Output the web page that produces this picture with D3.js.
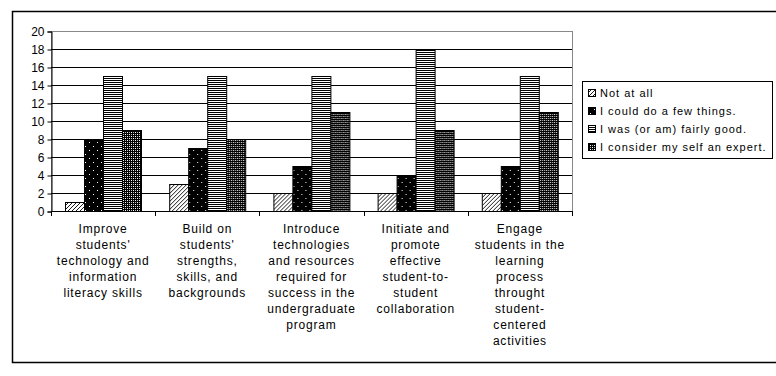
<!DOCTYPE html>
<html>
<head>
<meta charset="utf-8">
<script src="https://cdn.jsdelivr.net/npm/d3@7"></script>
<style>
  body { margin: 0; background: #fff; }
  svg { display: block; font-family: "Liberation Sans", Arial, sans-serif; }
</style>
</head>
<body>
<script>
// Data
var categories = [
    ["Improve", "students'", "technology and", "information", "literacy skills"],
    ["Build on", "students'", "strengths,", "skills, and", "backgrounds"],
    ["Introduce", "technologies", "and resources", "required for", "success in the", "undergraduate", "program"],
    ["Initiate and", "promote", "effective", "student-to-", "student", "collaboration"],
    ["Engage", "students in the", "learning", "process", "throught", "student-", "centered", "activities"]
];
var seriesNames = ["Not at all", "I could do a few things.", "I was (or am) fairly  good.", "I consider my self an expert."];
var notAtAll = [1, 3, 2, 2, 2];
var fewThings = [8, 7, 5, 4, 5];
var fairlyGood = [15, 15, 15, 18, 15];
var expert = [9, 8, 11, 9, 11];
var yTicks = [0, 2, 4, 6, 8, 10, 12, 14, 16, 18, 20];

var series = [notAtAll, fewThings, fairlyGood, expert];
var patternIds = ["p-diag", "p-dots", "p-stripes", "p-check"];

var W = 776, H = 376;
var plot = {left: 51, top: 31, right: 572, bottom: 211};

var svg = d3.select("body").append("svg")
    .attr("width", W)
    .attr("height", H);

// Patterns
var defs = svg.append("defs");

var pd = defs.append("pattern").attr("id", "p-diag")
    .attr("patternUnits", "userSpaceOnUse").attr("width", 4).attr("height", 4);
pd.append("rect").attr("width", 4).attr("height", 4).attr("fill", "#fff");
pd.append("path").attr("d", "M-1,1 l2,-2 M0,4 l4,-4 M3,5 l2,-2")
    .attr("stroke", "#000").attr("stroke-width", 0.9);

var pdot = defs.append("pattern").attr("id", "p-dots")
    .attr("patternUnits", "userSpaceOnUse").attr("width", 8).attr("height", 8);
pdot.append("rect").attr("width", 8).attr("height", 8).attr("fill", "#000");
pdot.append("rect").attr("x", 2).attr("y", 2).attr("width", 1).attr("height", 1).attr("fill", "#fff");
pdot.append("rect").attr("x", 6).attr("y", 6).attr("width", 1).attr("height", 1).attr("fill", "#fff");

var ps = defs.append("pattern").attr("id", "p-stripes")
    .attr("patternUnits", "userSpaceOnUse").attr("width", 4).attr("height", 2);
ps.append("rect").attr("width", 4).attr("height", 2).attr("fill", "#fff");
ps.append("rect").attr("width", 4).attr("height", 1).attr("fill", "#000");

var pc = defs.append("pattern").attr("id", "p-check")
    .attr("patternUnits", "userSpaceOnUse").attr("width", 4).attr("height", 4);
pc.append("rect").attr("width", 4).attr("height", 4).attr("fill", "#000");
pc.append("rect").attr("x", 0).attr("y", 0).attr("width", 1).attr("height", 1).attr("fill", "#fff");
pc.append("rect").attr("x", 2).attr("y", 2).attr("width", 1).attr("height", 1).attr("fill", "#fff");
pc.append("rect").attr("x", 2).attr("y", 0).attr("width", 1).attr("height", 1).attr("fill", "#bbb");
pc.append("rect").attr("x", 0).attr("y", 2).attr("width", 1).attr("height", 1).attr("fill", "#bbb");

// Outer frame
svg.append("rect")
    .attr("x", 12.5).attr("y", 11.5)
    .attr("width", 800).attr("height", 351)
    .attr("fill", "none").attr("stroke", "#000").attr("stroke-width", 1.5);

// Scales
var x0 = d3.scaleBand()
    .domain(d3.range(categories.length))
    .range([plot.left, plot.right]);

var x1 = d3.scaleBand()
    .domain(d3.range(series.length))
    .range([0, x0.bandwidth()])
    .paddingOuter(0.7)
    .paddingInner(0);

var y = d3.scaleLinear()
    .domain([0, 20])
    .range([plot.bottom, plot.top]);

// Plot area border
svg.append("rect")
    .attr("x", plot.left + 0.5).attr("y", plot.top + 0.5)
    .attr("width", plot.right - plot.left).attr("height", plot.bottom - plot.top)
    .attr("fill", "none").attr("stroke", "#888");

// Gridlines
svg.append("g")
    .selectAll("line")
    .data(yTicks.filter(d => d > 0))
    .enter()
    .append("line")
    .attr("x1", plot.left).attr("x2", plot.right)
    .attr("y1", d => Math.round(y(d)) + 0.5)
    .attr("y2", d => Math.round(y(d)) + 0.5)
    .attr("stroke", d => d === 20 ? "#888" : "#000");

// Bars
var groups = svg.append("g")
    .selectAll("g")
    .data(categories.map((c, i) => i))
    .enter()
    .append("g")
    .attr("transform", i => "translate(" + x0(i) + ",0)");

groups.selectAll("rect")
    .data(i => series.map((s, k) => ({k: k, v: s[i]})))
    .enter()
    .append("rect")
    .attr("x", d => Math.round(x1(d.k)) + 0.5)
    .attr("y", d => Math.round(y(d.v)) + 0.5)
    .attr("width", Math.round(x1.bandwidth()))
    .attr("height", d => Math.round(y(0)) - Math.round(y(d.v)))
    .attr("fill", d => "url(#" + patternIds[d.k] + ")")
    .attr("stroke", "#000")
    .attr("stroke-width", 1);

// Y axis
var yAxis = svg.append("g")
    .attr("transform", "translate(" + (plot.left + 0.5) + ",0.5)")
    .call(d3.axisLeft(y).tickValues(yTicks).tickSize(4).tickPadding(3));
yAxis.select(".domain").attr("stroke", "#000");
yAxis.selectAll("text")
    .style("font-family", "'Liberation Sans', Arial, sans-serif")
    .style("font-size", "12px")
    .attr("fill", "#000");

// X axis line and ticks at category boundaries
svg.append("line")
    .attr("x1", plot.left).attr("x2", plot.right + 1)
    .attr("y1", plot.bottom + 0.5).attr("y2", plot.bottom + 0.5)
    .attr("stroke", "#000");

svg.append("g")
    .selectAll("line")
    .data(d3.range(categories.length + 1))
    .enter()
    .append("line")
    .attr("x1", i => Math.round(i < categories.length ? x0(i) : plot.right) + 0.5)
    .attr("x2", i => Math.round(i < categories.length ? x0(i) : plot.right) + 0.5)
    .attr("y1", plot.bottom)
    .attr("y2", plot.bottom + 5)
    .attr("stroke", "#000");

// Category labels
var labels = svg.append("g")
    .selectAll("text")
    .data(categories)
    .enter()
    .append("text")
    .attr("x", (d, i) => x0(i) + x0.bandwidth() / 2)
    .attr("y", 233)
    .attr("text-anchor", "middle")
    .style("font-size", "12px")
    .style("letter-spacing", "0.8px")
    .attr("fill", "#000");

labels.selectAll("tspan")
    .data(d => d)
    .enter()
    .append("tspan")
    .attr("x", function() { return d3.select(this.parentNode).attr("x"); })
    .attr("dy", (d, i) => i === 0 ? 0 : 16)
    .text(d => d);

// Legend
var legend = svg.append("g");
legend.append("rect")
    .attr("x", 582.5).attr("y", 81.5)
    .attr("width", 190).attr("height", 77)
    .attr("fill", "#fff").attr("stroke", "#000");

var items = legend.selectAll("g")
    .data(seriesNames)
    .enter()
    .append("g")
    .attr("transform", (d, i) => "translate(588," + (93 + i * 18) + ")");

items.append("rect")
    .attr("x", 0.5).attr("y", -3.5)
    .attr("width", 7).attr("height", 7)
    .attr("fill", (d, i) => "url(#" + patternIds[i] + ")")
    .attr("stroke", "#000");

items.append("text")
    .attr("x", 12)
    .attr("y", 4)
    .style("font-size", "11px")
    .style("letter-spacing", "1px")
    .attr("fill", "#000")
    .text(d => d);
</script>
</body>
</html>
